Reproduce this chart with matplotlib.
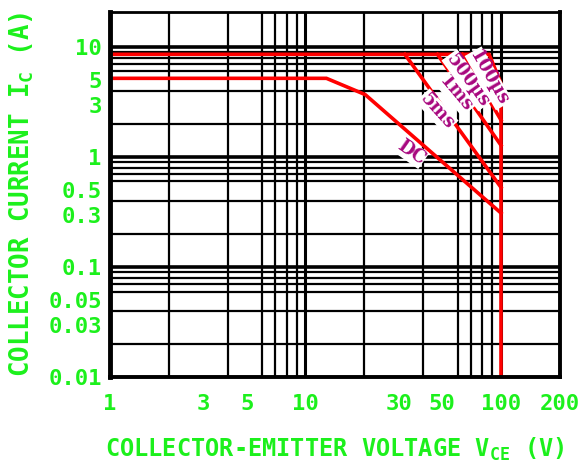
import matplotlib
matplotlib.use("Agg")
import matplotlib.pyplot as plt
from matplotlib.ticker import FixedLocator, NullFormatter

# ------------------------------------------------------------------
# Data (V, A)
# ------------------------------------------------------------------

x_ticks = [1, 3, 5, 10, 30, 50, 100, 200]
x_tick_labels = ["1", "3", "5", "10", "30", "50", "100", "200"]
y_ticks = [0.01, 0.03, 0.05, 0.1, 0.3, 0.5, 1, 3, 5, 10]
y_tick_labels = ["0.01", "0.03", "0.05", "0.1", "0.3", "0.5", "1", "3", "5", "10"]

# pulse curves, each ends on the 100 V line
us100_v = [1, 86.9, 100, 100]
us100_i = [8.6, 8.6, 4.7, 0.01]
us500_v = [63.4, 100]
us500_i = [8.6, 2.17]
ms1_v = [47.3, 100]
ms1_i = [8.6, 1.28]
ms5_v = [32.2, 100]
ms5_i = [8.6, 0.53]
dc_v = [1, 12.8, 20.2, 100]
dc_i = [5.2, 5.2, 3.7, 0.31]

# curve names with (V, A) anchor and angle
curve_labels = ["DC", "5ms", "1ms", "500\u00b5s", "100\u00b5s"]
label_v = [34.6, 47.0, 58.7, 67.6, 86.5]
label_i = [1.11, 2.62, 3.74, 5.0, 5.2]
label_rot = [-35, -48, -50, -54, -60]

GREEN = "#1cf01c"
PURPLE = "#a8087f"
RED = "#ff0000"
MONO = "DejaVu Sans Mono"

fig = plt.figure(figsize=(5.85, 4.65), dpi=100)
ax = fig.add_axes([0.188, 0.189, 0.769, 0.785])

ax.set_xscale("log")
ax.set_yscale("log")
ax.set_xlim(1, 200)
ax.set_ylim(0.01, 20.8)

# grid: every 1..9 multiple, nothing above 10 A or beyond 100 V
x_minor = [m * d for d in (1, 10) for m in range(1, 10)] + [100]
y_minor = [m * d for d in (0.01, 0.1, 1) for m in range(1, 10)] + [10]
ax.xaxis.set_minor_locator(FixedLocator(x_minor))
ax.yaxis.set_minor_locator(FixedLocator(y_minor))
ax.xaxis.set_minor_formatter(NullFormatter())
ax.yaxis.set_minor_formatter(NullFormatter())
ax.grid(which="minor", color="black", linewidth=1.6)
ax.grid(which="major", visible=False)
for d in (1, 10, 100):
    ax.axvline(d, color="black", linewidth=2.2, zorder=1)
for d in (0.1, 1, 10):
    ax.axhline(d, color="black", linewidth=2.6, zorder=1)

ax.set_xticks(x_ticks)
ax.set_xticklabels(x_tick_labels)
ax.set_yticks(y_ticks)
ax.set_yticklabels(y_tick_labels)
ax.tick_params(which="both", length=0)
ax.tick_params(axis="x", pad=12)
ax.tick_params(axis="y", pad=6)
for lab in ax.get_xticklabels() + ax.get_yticklabels():
    lab.set_fontfamily(MONO)
    lab.set_fontweight("bold")
    lab.set_fontsize(16)
    lab.set_color(GREEN)

for side, lw in [("left", 3.5), ("bottom", 2.8), ("right", 2.8), ("top", 2.0)]:
    ax.spines[side].set_linewidth(lw)
    ax.spines[side].set_zorder(5)

for xs, ys in [(us100_v, us100_i), (us500_v, us500_i), (ms1_v, ms1_i),
               (ms5_v, ms5_i), (dc_v, dc_i)]:
    ax.plot(xs, ys, color=RED, linewidth=2.6, solid_joinstyle="miter", zorder=3)

for name, v, i, rot in zip(curve_labels, label_v, label_i, label_rot):
    ax.text(v, i, name, rotation=rot, rotation_mode="anchor",
            ha="center", va="center", color=PURPLE, fontsize=13,
            fontfamily="DejaVu Serif", fontweight="bold", zorder=4,
            bbox=dict(facecolor="white", edgecolor="none", pad=0.5))

ax.set_xlabel("COLLECTOR-EMITTER VOLTAGE V$_\\mathregular{CE}$ (V)",
              fontfamily=MONO, fontweight="bold", fontsize=17, color=GREEN)
ax.set_ylabel("COLLECTOR CURRENT I$_\\mathregular{C}$ (A)",
              fontfamily=MONO, fontweight="bold", fontsize=18.5, color=GREEN)
ax.xaxis.set_label_coords(0.5, -0.198)
ax.xaxis.label.set_va("center")
ax.yaxis.set_label_coords(-0.196, 0.5)
ax.yaxis.label.set_va("center")

fig.savefig("out.png", dpi=100)
